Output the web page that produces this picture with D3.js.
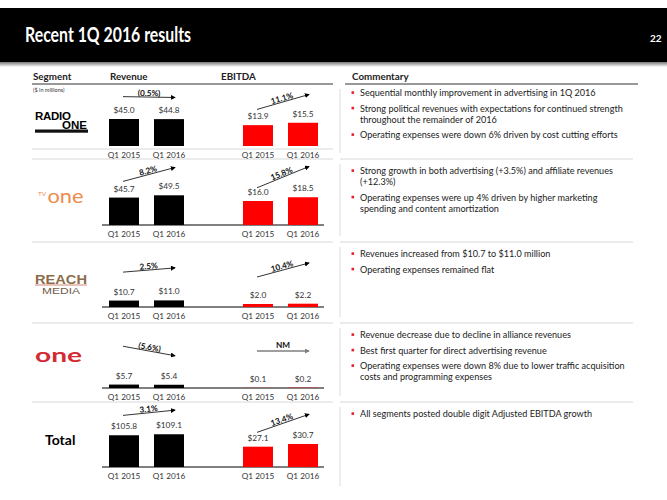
<!DOCTYPE html>
<html><head><meta charset="utf-8">
<script src="https://cdn.jsdelivr.net/npm/d3@7/dist/d3.min.js"></script>
<style>
body{margin:0;background:#fff;}
svg{display:block;font-family:Lato,'Open Sans',sans-serif;}
</style>
</head><body>
<svg id="c" width="667" height="500"></svg>
<script>
// ---------- DATA ----------
const segments = ["Radio One", "TV One", "Reach Media", "One", "Total"];
const periods = ["Q1 2015", "Q1 2016"];
const revenue = [[45.0, 44.8], [45.7, 49.5], [10.7, 11.0], [5.7, 5.4], [105.8, 109.1]];
const ebitda  = [[13.9, 15.5], [16.0, 18.5], [2.0, 2.2], [0.1, 0.2], [27.1, 30.7]];
const revenueChangeLabels = ["(0.5%)", "8.2%", "2.5%", "(5.6%)", "3.1%"];
const revenueChange = [-0.5, 8.2, 2.5, -5.6, 3.1];
const ebitdaChangeLabels = ["11.1%", "15.8%", "10.4%", "NM", "13.4%"];
const ebitdaChange = [11.1, 15.8, 10.4, null, 13.4];
const headers = ["Segment", "Revenue", "EBITDA", "Commentary"];
const title = "Recent 1Q 2016 results";
const pageNumber = "22";
const unitsNote = "($ in millions)";
const commentary = [
  [["Sequential monthly improvement in advertising in 1Q 2016"],
   ["Strong political revenues with expectations for continued strength", "throughout the remainder of 2016"],
   ["Operating expenses were down 6% driven by cost cutting efforts"]],
  [["Strong growth in both advertising (+3.5%) and affiliate revenues", "(+12.3%)"],
   ["Operating expenses were up 4% driven by higher marketing", "spending and content amortization"]],
  [["Revenues increased from $10.7 to $11.0 million"],
   ["Operating expenses remained flat"]],
  [["Revenue decrease due to decline in alliance revenues"],
   ["Best first quarter for direct advertising revenue"],
   ["Operating expenses were down 8% due to lower traffic acquisition", "costs and programming expenses"]],
  [["All segments posted double digit Adjusted EBITDA growth"]]
];

// ---------- LAYOUT ----------
const svg = d3.select("#c");
const rowSep = [84, 159, 242, 323, 402];
const rowBase = [146, 225, 307, 388, 467];
const fmt = v => "$" + d3.format(".1f")(v);

// header bar
const defs = svg.append("defs");
const g1 = defs.append("linearGradient").attr("id", "sh").attr("x1", 0).attr("y1", 0).attr("x2", 0).attr("y2", 1);
g1.append("stop").attr("offset", 0).attr("stop-color", "#777");
g1.append("stop").attr("offset", 1).attr("stop-color", "#fff");
svg.append("rect").attr("x", 0).attr("y", 62).attr("width", 667).attr("height", 5).attr("fill", "url(#sh)");
svg.append("rect").attr("x", 0).attr("y", 8).attr("width", 667).attr("height", 54).attr("fill", "#000");
svg.append("text").attr("x", 25).attr("y", 42).attr("fill", "#fff")
  .attr("font-size", 20).attr("font-weight", "bold")
  .attr("textLength", 166).attr("lengthAdjust", "spacingAndGlyphs").text(title);
svg.append("text").attr("x", 650).attr("y", 42).attr("fill", "#fff")
  .attr("font-size", 10).attr("font-weight", "bold").text(pageNumber);

// column headers
const hx = [33, 110, 221, 352];
headers.forEach((h, i) => {
  svg.append("text").attr("x", hx[i]).attr("y", 79.5).attr("font-size", 9.8)
    .attr("font-weight", "bold").attr("fill", "#222").text(h);
});
svg.append("line").attr("x1", 32).attr("x2", 333).attr("y1", 84).attr("y2", 84).attr("stroke", "#333").attr("stroke-width", 1);
svg.append("line").attr("x1", 345).attr("x2", 638).attr("y1", 84).attr("y2", 84).attr("stroke", "#333").attr("stroke-width", 1);
svg.append("text").attr("x", 33).attr("y", 92).attr("font-size", 5.5).attr("fill", "#333").text(unitsNote);

// separators
rowSep.slice(1).forEach(y => {
  svg.append("line").attr("x1", 32).attr("x2", 333).attr("y1", y).attr("y2", y).attr("stroke", "#d8d8d8");
  svg.append("line").attr("x1", 340).attr("x2", 633).attr("y1", y).attr("y2", y).attr("stroke", "#d8d8d8");
});
rowSep.forEach((y, i) => {
  const yEnd = i < 4 ? rowSep[i + 1] - 6 : 486;
  svg.append("line").attr("x1", 340).attr("x2", 340).attr("y1", y + 5).attr("y2", yEnd)
    .attr("stroke", "#e2e2e2").attr("stroke-width", 1.2);
});

// arrow markers
[["ah", "#000"], ["ahg", "#7f7f7f"]].forEach(([id, c]) => {
  defs.append("marker").attr("id", id).attr("viewBox", "0 0 6 6").attr("refX", 5).attr("refY", 3)
    .attr("markerWidth", 5).attr("markerHeight", 5).attr("markerUnits", "userSpaceOnUse").attr("orient", "auto")
    .append("path").attr("d", "M0,0L6,3L0,6Z").attr("fill", c);
});

// scales
const xRev = d3.scaleBand().domain(periods).range([101.5, 191.5]).paddingInner(1 / 3).paddingOuter(1 / 6);
const xEb = d3.scaleBand().domain(periods).range([235.5, 325.5]).paddingInner(1 / 3).paddingOuter(1 / 6);
const slopeRev = d3.scaleLinear().domain([0, 10]).range([0, -17]);
const slopeEb = d3.scaleLinear().domain([0, 10]).range([0, -13.5]);

function drawChart(g, x, vals, yScale, color, base, changeVal, changeLabel, slope) {
  const bw = x.bandwidth();
  g.selectAll("rect.bar").data(vals).join("rect").attr("class", "bar")
    .attr("x", (d, i) => x(periods[i])).attr("width", bw)
    .attr("y", d => base - yScale(d)).attr("height", d => yScale(d)).attr("fill", color);
  g.selectAll("text.val").data(vals).join("text").attr("class", "val")
    .attr("x", (d, i) => x(periods[i]) + bw / 2).attr("y", d => base - yScale(d) - 6)
    .attr("text-anchor", "middle").attr("font-size", 8.3).attr("fill", "#333").text(fmt);
  g.selectAll("text.cat").data(periods).join("text").attr("class", "cat")
    .attr("x", d => x(d) + bw / 2).attr("y", base + 11.5)
    .attr("text-anchor", "middle").attr("font-size", 8.2).attr("fill", "#333").text(d => d);
  // growth arrow
  const tops = vals.map(v => base - yScale(v));
  const mid = Math.min(d3.mean(tops) - 22, base - 37);
  const dy = changeVal === null ? 0 : slope(changeVal);
  const x1 = x(periods[0]) + bw / 2 - 1, x2 = x(periods[1]) + bw / 2 + 6;
  const y1 = mid - dy / 2, y2 = mid + dy / 2;
  const grey = changeVal === null;
  g.append("line").attr("x1", x1).attr("y1", y1).attr("x2", x2).attr("y2", y2)
    .attr("stroke", grey ? "#7f7f7f" : "#000").attr("stroke-width", grey ? 1.4 : 0.8)
    .attr("marker-end", grey ? "url(#ahg)" : "url(#ah)");
  const ang = Math.atan2(y2 - y1, x2 - x1) * 180 / Math.PI;
  const mx = (x1 + x2) / 2, my = (y1 + y2) / 2;
  g.append("text").attr("transform", `translate(${mx},${my}) rotate(${ang})`)
    .attr("y", grey ? -3 : -1).attr("text-anchor", "middle").attr("font-size", 8.2)
    .attr("font-weight", "bold").attr("fill", "#111").text(changeLabel);
}

segments.forEach((s, i) => {
  const base = rowBase[i];
  const isTotal = i === segments.length - 1;
  const yR = d3.scaleLinear().domain([0, isTotal ? 200 : 100]).range([0, 60]);
  const yE = d3.scaleLinear().domain([0, isTotal ? 80 : 40]).range([0, 60]);
  const g = svg.append("g");
  if (i === 0) {
    g.append("line").attr("x1", 32).attr("x2", 333).attr("y1", base + 3).attr("y2", base + 3).attr("stroke", "#d8d8d8");
  } else {
    g.append("line").attr("x1", 102).attr("x2", 324).attr("y1", base).attr("y2", base).attr("stroke", "#000").attr("stroke-width", 1);
  }
  drawChart(g.append("g"), xRev, revenue[i], yR, "#000", base, revenueChange[i], revenueChangeLabels[i], slopeRev);
  drawChart(g.append("g"), xEb, ebitda[i], yE, "#ff0000", base, ebitdaChange[i], ebitdaChangeLabels[i], slopeEb);

  // commentary
  let y = rowSep[i] + (i === 0 ? 12 : 15);
  commentary[i].forEach(par => {
    svg.append("rect").attr("x", 351.5).attr("y", y - 4.7).attr("width", 2.6).attr("height", 2.6).attr("fill", "#e8202a");
    par.forEach(line => {
      svg.append("text").attr("x", 360).attr("y", y).attr("font-size", 9.1).attr("fill", "#222").text(line);
      y += 11;
    });
    y += 4.5;
  });
});

// logos (segment names as styled text)
const lg = svg.append("g");
const LS = "'Liberation Sans',Arial,sans-serif";
const r1 = lg.append("text").attr("font-family", LS).attr("font-weight", "bold");
r1.append("tspan").attr("x", 35).attr("y", 119.5).attr("font-size", 11.5).attr("letter-spacing", -0.3).text("RADIO");
r1.append("tspan").attr("x", 62).attr("y", 128.5).attr("font-size", 11.5).attr("letter-spacing", 0).text("ONE");
lg.append("rect").attr("x", 35).attr("y", 129.5).attr("width", 53).attr("height", 3.2).attr("fill", "#111");
r1.append("tspan").attr("x", 36.5).attr("y", 131.9).attr("font-size", 2.5).attr("font-weight", "normal")
  .attr("fill", "#fff").text("THE URBAN MEDIA SPECIALIST");

lg.append("text").attr("x", 38).attr("y", 196).attr("font-size", 6.5).attr("fill", "#ee8a4c").text("TV");
lg.append("text").attr("x", 47.5).attr("y", 203).attr("font-size", 19).attr("fill", "#ee8a4c")
  .attr("textLength", 36).attr("lengthAdjust", "spacingAndGlyphs").text("one");

lg.append("line").attr("x1", 35).attr("x2", 87).attr("y1", 285).attr("y2", 285).attr("stroke", "#c0503a").attr("stroke-width", 0.7);
lg.append("text").attr("x", 35).attr("y", 283.5).attr("font-size", 13).attr("font-weight", "bold").attr("fill", "#8b6b4a")
  .attr("font-family", LS).attr("textLength", 52).attr("lengthAdjust", "spacingAndGlyphs").text("REACH");
lg.append("text").attr("x", 42).attr("y", 294).attr("font-size", 8.5).attr("fill", "#6e5c4c")
  .attr("font-family", LS).attr("textLength", 38).attr("lengthAdjust", "spacingAndGlyphs").text("MEDIA");

lg.append("text").attr("x", 35).attr("y", 362).attr("font-size", 19).attr("font-weight", "bold").attr("fill", "#d42a34")
  .attr("textLength", 47).attr("lengthAdjust", "spacingAndGlyphs").text("one");

lg.append("text").attr("x", 45).attr("y", 445).attr("font-size", 14).attr("font-weight", "bold").attr("fill", "#000").text(segments[4]);
</script>
</body></html>
